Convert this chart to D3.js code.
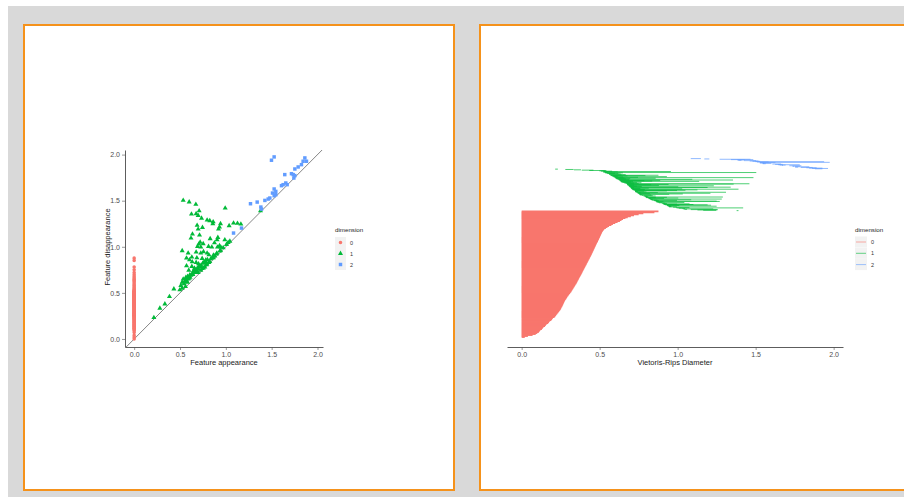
<!DOCTYPE html>
<html>
<head>
<meta charset="utf-8">
<title>Persistence diagram and barcode</title>
<script src="https://d3js.org/d3.v7.min.js"></script>
<style>
  html, body { margin: 0; padding: 0; background: #fff; overflow: hidden; }
  svg { display: block; font-family: 'Liberation Sans', Arial, sans-serif; }
</style>
</head>
<body>
<svg id="canvas" width="904" height="497"></svg>
<script>
// dimension 0 features: birth is always 0, these are the deaths (sorted)
const dim0Deaths = [
  0.00, 0.02, 0.04, 0.07, 0.09, 0.10, 0.11, 0.115, 0.12, 0.13,
  0.135, 0.14, 0.15, 0.155, 0.16, 0.17, 0.175, 0.18, 0.19, 0.195,
  0.20, 0.21, 0.215, 0.22, 0.225, 0.23, 0.235, 0.24, 0.245, 0.25,
  0.253, 0.256, 0.26, 0.263, 0.266, 0.269, 0.272, 0.275, 0.278, 0.283,
  0.287, 0.291, 0.295, 0.30, 0.304, 0.31, 0.314, 0.318, 0.322, 0.326,
  0.33, 0.334, 0.338, 0.342, 0.346, 0.35, 0.354, 0.357, 0.36, 0.364,
  0.367, 0.37, 0.374, 0.378, 0.381, 0.385, 0.388, 0.391, 0.394, 0.398,
  0.401, 0.404, 0.407, 0.41, 0.414, 0.417, 0.42, 0.424, 0.427, 0.43,
  0.434, 0.437, 0.44, 0.444, 0.447, 0.45, 0.453, 0.456, 0.459, 0.462,
  0.465, 0.468, 0.471, 0.474, 0.477, 0.48, 0.483, 0.486, 0.489, 0.492,
  0.495, 0.498, 0.501, 0.504, 0.507, 0.51, 0.513, 0.516, 0.52, 0.525,
  0.53, 0.54, 0.55, 0.56, 0.575, 0.585, 0.60, 0.615, 0.63, 0.64,
  0.65, 0.665, 0.68, 0.70, 0.72, 0.75, 0.78, 0.851, 0.877
];

// dimension 1 features [birth, death]
const dim1Pairs = [
  [0.215,0.232],[0.280,0.333],[0.335,0.380],[0.385,0.460],[0.433,0.543],
  [0.498,0.533],[0.509,0.580],[0.524,0.551],[0.524,0.616],[0.524,0.957],
  [0.535,1.504],[0.535,0.649],[0.545,0.598],[0.550,0.620],[0.560,0.569],
  [0.560,0.634],[0.564,0.667],[0.570,0.640],[0.571,0.877],[0.571,0.793],
  [0.582,0.678],[0.582,0.616],[0.589,0.931],[0.590,0.650],[0.596,0.746],
  [0.600,1.486],[0.600,0.659],[0.604,0.859],[0.607,0.696],[0.610,0.670],
  [0.620,1.094],[0.620,0.690],[0.625,1.355],[0.629,0.888],[0.629,0.786],
  [0.633,0.837],[0.636,1.138],[0.636,0.714],[0.640,0.700],[0.647,0.739],
  [0.658,0.768],[0.660,0.720],[0.670,0.750],[0.673,1.460],[0.676,1.359],
  [0.676,0.942],[0.676,0.830],[0.680,0.721],[0.684,0.880],[0.687,1.232],
  [0.687,0.739],[0.690,0.770],[0.691,1.004],[0.698,1.340],[0.698,1.192],
  [0.698,0.720],[0.702,0.815],[0.702,0.761],[0.705,1.029],[0.709,1.390],
  [0.710,0.790],[0.713,1.127],[0.720,1.050],[0.727,0.996],[0.727,0.931],
  [0.727,0.786],[0.727,0.745],[0.730,0.800],[0.735,1.310],[0.742,0.873],
  [0.742,0.764],[0.745,1.210],[0.749,0.822],[0.753,1.033],[0.756,0.946],
  [0.756,0.770],[0.760,0.830],[0.771,0.779],[0.780,0.840],[0.782,0.859],
  [0.789,0.805],[0.793,0.812],[0.796,1.290],[0.796,0.931],[0.800,0.860],
  [0.811,1.004],[0.815,0.913],[0.815,0.830],[0.825,1.283],[0.825,0.840],
  [0.829,1.087],[0.836,0.870],[0.847,0.996],[0.851,0.880],[0.858,1.250],
  [0.862,1.270],[0.865,0.909],[0.865,0.880],[0.876,1.043],[0.880,0.900],
  [0.898,0.920],[0.902,0.931],[0.905,1.076],[0.909,0.996],[0.913,1.101],
  [0.920,1.192],[0.931,1.214],[0.931,1.011],[0.935,0.955],[0.942,1.250],
  [0.942,0.960],[0.945,0.996],[0.971,0.990],[0.989,1.076],[0.993,1.420],
  [1.007,1.025],[1.025,1.047],[1.036,1.228],[1.044,1.060],[1.084,1.257],
  [1.127,1.254],[1.164,1.246],[1.378,1.390]
];

// dimension 2 features [birth, death]
const dim2Pairs = [
  [1.084,1.149],[1.171,1.203],[1.269,1.467],[1.342,1.485],[1.382,1.431],
  [1.389,1.409],[1.426,1.503],[1.462,1.518],[1.480,1.529],[1.498,1.939],
  [1.509,1.583],[1.527,1.975],[1.527,1.627],[1.527,1.554],[1.545,1.601],
  [1.545,1.565],[1.607,1.663],[1.625,1.674],[1.643,1.783],[1.654,1.692],
  [1.669,1.674],[1.716,1.793],[1.735,1.783],[1.742,1.746],[1.753,1.844],
  [1.753,1.772],[1.789,1.866],[1.825,1.891],[1.843,1.928],[1.862,1.964],
  [1.880,1.928]
];

const dimensionLabels = ["0", "1", "2"];
const dimColors = ["#F8766D", "#00BA38", "#619CFF"];
const tickValues = [0, 0.5, 1, 1.5, 2];

const features = [
  ...dim0Deaths.map(d => ({ dim: 0, birth: 0, death: d })),
  ...dim1Pairs.map(p => ({ dim: 1, birth: p[0], death: p[1] })),
  ...dim2Pairs.map(p => ({ dim: 2, birth: p[0], death: p[1] }))
];

const svg = d3.select("#canvas");
const font = "'Liberation Sans', Arial, sans-serif";

// page background and the two framed panels
svg.append("rect").attr("x", 0).attr("y", 0).attr("width", 904).attr("height", 497).attr("fill", "#fff");
svg.append("rect").attr("x", 8).attr("y", 6).attr("width", 896).attr("height", 491).attr("fill", "#d9d9d9");
svg.append("rect").attr("x", 24).attr("y", 25).attr("width", 430).attr("height", 465)
  .attr("fill", "#fff").attr("stroke", "#f5921b").attr("stroke-width", 2);
svg.append("rect").attr("x", 480).attr("y", 25).attr("width", 440).attr("height", 465)
  .attr("fill", "#fff").attr("stroke", "#f5921b").attr("stroke-width", 2);

function styleAxis(g) {
  g.attr("font-size", null).attr("font-family", null);
  g.select(".domain").attr("stroke", "#333").attr("stroke-width", 0.8);
  g.selectAll(".tick line").attr("stroke", "#555").attr("stroke-width", 0.6);
  g.selectAll(".tick text").attr("fill", "#4d4d4d").attr("font-size", 7).attr("font-family", font);
}

const fmt = d3.format(".1f");

// ---------- persistence diagram ----------
const px = d3.scaleLinear().domain([-0.1, 2.06]).range([125, 323]);
const py = d3.scaleLinear().domain([-0.087, 2.05]).range([347, 150]);

const diag = svg.append("g");
diag.append("line")
  .attr("x1", px(-0.087)).attr("y1", py(-0.087))
  .attr("x2", px(2.05)).attr("y2", py(2.05))
  .attr("stroke", "#333").attr("stroke-width", 0.6);

const symbolTypes = [d3.symbolCircle, d3.symbolTriangle, d3.symbolSquare];
const symbolSizes = [10, 11, 12];

diag.selectAll("path.pt")
  .data(features)
  .join("path")
  .attr("class", "pt")
  .attr("transform", d => `translate(${px(d.birth)},${py(d.death)})`)
  .attr("d", d => d3.symbol().type(symbolTypes[d.dim]).size(symbolSizes[d.dim])())
  .attr("fill", d => dimColors[d.dim]);

diag.append("g").attr("transform", "translate(0,347)")
  .call(d3.axisBottom(px).tickValues(tickValues).tickFormat(fmt).tickSize(3).tickSizeOuter(0).tickPadding(2))
  .call(styleAxis);
diag.append("g").attr("transform", "translate(125,0)")
  .call(d3.axisLeft(py).tickValues(tickValues).tickFormat(fmt).tickSize(3).tickSizeOuter(0).tickPadding(2))
  .call(styleAxis);

diag.append("text").attr("x", 224).attr("y", 365).attr("text-anchor", "middle")
  .attr("font-size", 7.5).attr("fill", "#1a1a1a").text("Feature appearance");
diag.append("text").attr("transform", "translate(110,247) rotate(-90)").attr("text-anchor", "middle")
  .attr("font-size", 7.5).attr("fill", "#1a1a1a").text("Feature disappearance");

// legend (points)
const leg1 = diag.append("g").attr("transform", "translate(335,0)");
leg1.append("text").attr("x", 0).attr("y", 232).attr("font-size", 6.2).attr("fill", "#1a1a1a").text("dimension");
dimensionLabels.forEach((lab, i) => {
  const cy = 242.5 + i * 11;
  leg1.append("rect").attr("x", 0).attr("y", cy - 5.5).attr("width", 11).attr("height", 11).attr("fill", "#f2f2f2");
  leg1.append("path").attr("transform", `translate(5.5,${cy})`)
    .attr("d", d3.symbol().type(symbolTypes[i]).size(symbolSizes[i])())
    .attr("fill", dimColors[i]);
  leg1.append("text").attr("x", 15).attr("y", cy + 2).attr("font-size", 5.5).attr("fill", "#333").text(lab);
});

// ---------- barcode ----------
const bx = d3.scaleLinear().domain([-0.094, 2.06]).range([507, 843]);

// stack order from the bottom: dimension, then birth descending, then death ascending
const rowWeight = [0.99, 0.34, 0.34];
const ordered = features.slice().sort((a, b) =>
  a.dim - b.dim || b.birth - a.birth || a.death - b.death);
let acc = 0;
ordered.forEach(f => { f.row = acc + rowWeight[f.dim] / 2; acc += rowWeight[f.dim]; });
const by = d3.scaleLinear().domain([0, acc]).range([338.5, 338.5 - acc]);

const bar = svg.append("g");
bar.selectAll("line.bar")
  .data(ordered)
  .join("line")
  .attr("class", "bar")
  .attr("x1", d => bx(d.birth)).attr("x2", d => bx(d.death))
  .attr("y1", d => by(d.row)).attr("y2", d => by(d.row))
  .attr("stroke", d => dimColors[d.dim])
  .attr("stroke-width", d => d.dim === 0 ? 1.8 : 0.7);

bar.append("g").attr("transform", "translate(0,347)")
  .call(d3.axisBottom(bx).tickValues(tickValues).tickFormat(fmt).tickSize(3).tickSizeOuter(0).tickPadding(2))
  .call(styleAxis);

bar.append("text").attr("x", 675).attr("y", 365).attr("text-anchor", "middle")
  .attr("font-size", 7.5).attr("fill", "#1a1a1a").text("Vietoris-Rips Diameter");

// legend (lines)
const leg2 = bar.append("g").attr("transform", "translate(855,0)");
leg2.append("text").attr("x", 0).attr("y", 232).attr("font-size", 6.2).attr("fill", "#1a1a1a").text("dimension");
dimensionLabels.forEach((lab, i) => {
  const cy = 242 + i * 11.3;
  leg2.append("rect").attr("x", 0).attr("y", cy - 5.5).attr("width", 12).attr("height", 11).attr("fill", "#f2f2f2");
  leg2.append("line").attr("x1", 1).attr("x2", 11).attr("y1", cy).attr("y2", cy)
    .attr("stroke", dimColors[i]).attr("stroke-width", 0.6);
  leg2.append("text").attr("x", 16).attr("y", cy + 2).attr("font-size", 5.5).attr("fill", "#333").text(lab);
});
</script>
</body>
</html>
